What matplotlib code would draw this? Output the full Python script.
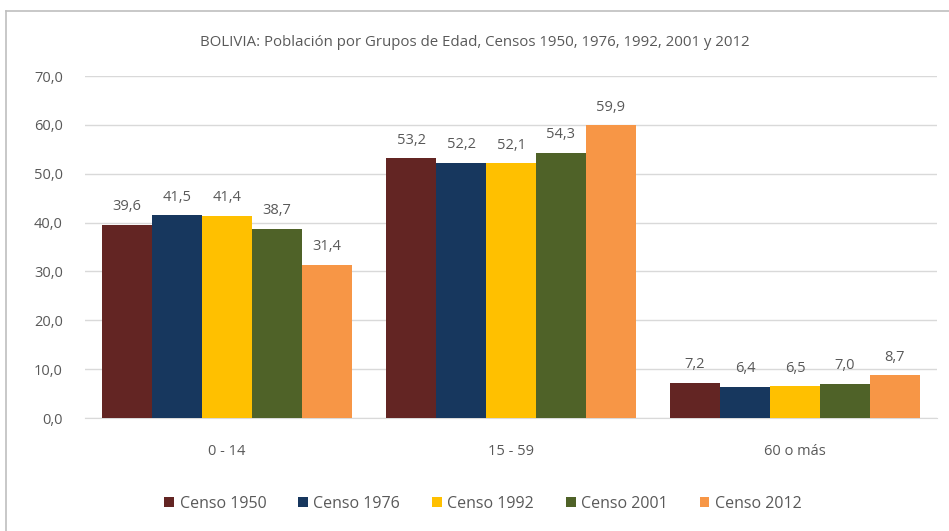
import numpy as np
import matplotlib.pyplot as plt
from matplotlib.lines import Line2D

plt.rcParams['font.family'] = ['Open Sans', 'DejaVu Sans']

titulo = "BOLIVIA: Población por Grupos de Edad, Censos 1950, 1976, 1992, 2001 y 2012"
grupos = ["0 - 14", "15 - 59", "60 o más"]
censos = ["Censo 1950", "Censo 1976", "Censo 1992", "Censo 2001", "Censo 2012"]
censo_1950 = [39.6, 53.2, 7.2]
censo_1976 = [41.5, 52.2, 6.4]
censo_1992 = [41.4, 52.1, 6.5]
censo_2001 = [38.7, 54.3, 7.0]
censo_2012 = [31.4, 59.9, 8.7]
y_ticks = [0, 10, 20, 30, 40, 50, 60, 70]

valores = [censo_1950, censo_1976, censo_1992, censo_2001, censo_2012]
cores = ['#632523', '#17375E', '#FFC000', '#4F6228', '#F79646']
cinza = '#595959'

fig = plt.figure(figsize=(9.49, 5.31), dpi=100)
ax = fig.add_axes([85 / 949, 1 - 418 / 531, (937 - 85) / 949, (418 - 76) / 531])

# moldura do gráfico (só se vê em cima e à esquerda)
fig.add_artist(Line2D([6 / 949, 1], [1 - 11 / 531, 1 - 11 / 531], color='#BFBFBF', lw=1.2))
fig.add_artist(Line2D([6 / 949, 6 / 949], [0, 1 - 11 / 531], color='#BFBFBF', lw=1.2))

x = np.arange(len(grupos))
larg = 0.176
for i, (nome, vals, cor) in enumerate(zip(censos, valores, cores)):
    pos = x + (i - 2) * larg
    barras = ax.bar(pos, vals, larg, color=cor, label=nome, zorder=3)
    for b, v in zip(barras, vals):
        ax.text(b.get_x() + b.get_width() / 2, v + 3.7, f"{v:.1f}".replace('.', ','),
                ha='center', va='center', fontsize=10.5, color=cinza)

ax.set_xlim(-0.5, 2.5)
ax.set_ylim(0, 70)
ax.set_yticks(y_ticks)
ax.set_yticklabels([f"{t:.1f}".replace('.', ',') for t in y_ticks], fontsize=10.5, color=cinza)
ax.set_xticks(x)
ax.set_xticklabels(grupos, fontsize=10.5, color=cinza)
ax.tick_params(axis='y', length=0, pad=16)
ax.tick_params(axis='x', length=0, pad=19)
ax.yaxis.grid(True, color='#D9D9D9', lw=1)
ax.set_axisbelow(True)
for s in ['top', 'right', 'left']:
    ax.spines[s].set_visible(False)
ax.spines['bottom'].set_color('#D9D9D9')

fig.text(0.5, 1 - 42 / 531, titulo, ha='center', va='center', fontsize=10.8, color=cinza)

fig.legend(loc='center', bbox_to_anchor=(0.509, 1 - 504 / 531), ncol=5, frameon=False,
           fontsize=11.5, labelcolor=cinza, handlelength=0.6, handleheight=0.6,
           handletextpad=0.35, columnspacing=2.0)

fig.savefig('out.png', dpi=100)
